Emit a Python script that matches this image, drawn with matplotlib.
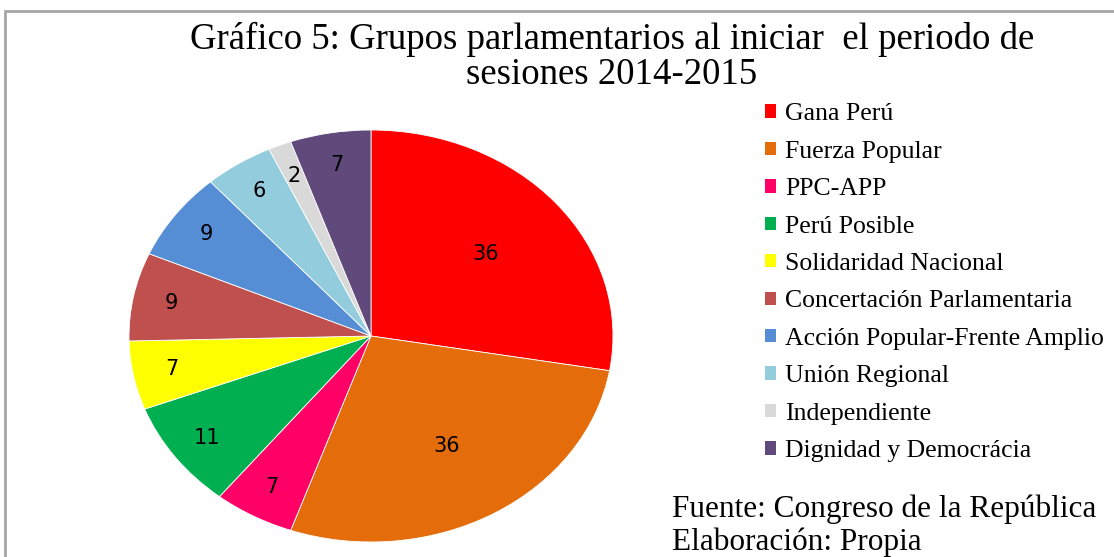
import matplotlib.pyplot as plt
from matplotlib.patches import Rectangle, Patch
import numpy as np

grupos = ['Gana Perú', 'Fuerza Popular', 'PPC-APP', 'Perú Posible',
          'Solidaridad Nacional', 'Concertación Parlamentaria',
          'Acción Popular-Frente Amplio', 'Unión Regional', 'Independiente',
          'Dignidad y Democrácia']
escanos = [36, 36, 7, 11, 7, 9, 9, 6, 2, 7]
colores = ['#FF0000', '#E46C0A', '#FF0066', '#00B050', '#FFFF00',
           '#C0504D', '#558ED5', '#93CDDD', '#D9D9D9', '#604A7B']

titulo = 'Gráfico 5: Grupos parlamentarios al iniciar  el periodo de\nsesiones 2014-2015'
fuente = 'Fuente: Congreso de la República\nElaboración: Propia'

W, H = 1114, 557
fig = plt.figure(figsize=(W / 100, H / 100), dpi=100)

# marco gris del grafico (se sale por la derecha y abajo)
fig.patches.append(Rectangle((4.5 / W, -0.05), 1.2, (H - 11) / H + 0.05,
                             transform=fig.transFigure, fill=False,
                             edgecolor='#A6A6A6', linewidth=2))

# pie eliptico: ejes de 484 x 412 px, limites -1..1
ax = fig.add_axes([129 / W, 15 / H, 484 / W, 412 / H])
wedges, _ = ax.pie(escanos, colors=colores, startangle=90, counterclock=False,
                   wedgeprops=dict(edgecolor='white', linewidth=0.6))
ax.set_aspect('auto')
ax.set_xlim(-1, 1)
ax.set_ylim(-1, 1)
ax.axis('off')

for w, v in zip(wedges, escanos):
    ang = np.deg2rad((w.theta1 + w.theta2) / 2)
    r = 0.62 if v > 20 else 0.84
    ax.text(r * np.cos(ang), r * np.sin(ang), str(v), ha='center', va='center',
            fontsize=15, family='DejaVu Sans', color='black')

fig.text(612 / W, 1 - 57 / H, titulo, ha='center', va='center',
         fontsize=26.5, family='Liberation Serif', linespacing=1.05)

handles = [Patch(facecolor=c, edgecolor='none') for c in colores]
leg = fig.legend(handles, grupos, loc='upper left',
                 bbox_to_anchor=(755 / W, 1 - 93 / H), frameon=False,
                 prop={'family': 'Liberation Serif', 'size': 18.5},
                 handlelength=0.42, handleheight=0.42, handletextpad=0.36,
                 labelspacing=0.6, borderaxespad=0)

fig.text(672 / W, 1 - 526 / H, fuente, ha='left', va='center',
         fontsize=22.5, family='Liberation Serif', linespacing=1.15)

fig.savefig('out.png', dpi=100)
